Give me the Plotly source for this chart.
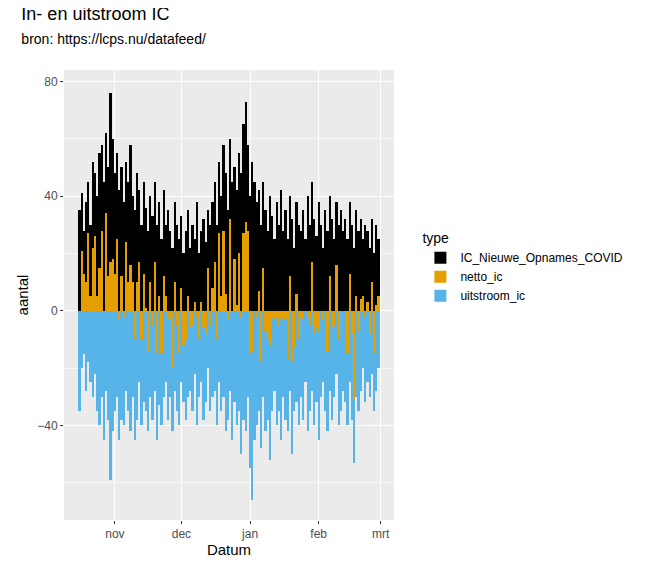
import plotly.graph_objects as go
import pandas as pd

dates = pd.date_range("2020-10-16", "2021-02-28", freq="D")
inflow = [35,41,28,38,45,30,52,48,40,55,
58,45,62,50,76,60,48,55,42,50,
38,52,45,58,40,35,48,42,30,45,
36,28,40,33,45,30,38,25,42,30,
35,28,22,38,30,25,33,20,28,35,
22,30,25,38,20,28,32,24,35,30,
38,45,30,52,40,58,48,35,60,45,
50,42,55,48,65,73,58,40,52,45,
38,42,30,45,35,28,40,33,25,38,
30,42,28,35,25,40,32,22,38,30,
28,35,25,40,30,45,32,26,38,30,
22,35,28,40,32,25,38,30,35,28,
32,25,38,30,22,35,28,32,25,30,
28,22,32,20,30,25]
outflow = [-35,-20,-15,-28,-18,-25,-30,-22,-35,-40,
-30,-45,-28,-38,-59,-42,-35,-30,-45,-38,
-40,-28,-35,-42,-30,-45,-38,-25,-40,-32,
-35,-42,-30,-38,-28,-45,-33,-40,-30,-25,
-38,-30,-42,-28,-35,-40,-25,-32,-38,-30,
-28,-35,-22,-40,-30,-25,-38,-32,-20,-35,
-30,-28,-40,-25,-35,-30,-42,-38,-28,-45,
-32,-40,-35,-50,-38,-42,-30,-55,-66,-45,
-40,-35,-48,-30,-42,-38,-52,-35,-28,-40,
-35,-45,-30,-38,-42,-28,-50,-35,-32,-40,
-30,-38,-25,-42,-35,-28,-40,-32,-45,-30,
-25,-35,-42,-28,-38,-30,-22,-40,-35,-28,
-32,-40,-25,-38,-53,-30,-35,-28,-20,-32,
-25,-30,-22,-35,-28,-20]
netto = [i + o for i, o in zip(inflow, outflow)]

tick_vals = ["2020-11-01", "2020-12-01", "2021-01-01", "2021-02-01", "2021-03-01"]
tick_text = ["nov", "dec", "jan", "feb", "mrt"]

fig = go.Figure()
fig.add_bar(x=dates, y=inflow, name="IC_Nieuwe_Opnames_COVID", marker=dict(color="#000000", line_width=0), legendrank=1)
fig.add_bar(x=dates, y=outflow, name="uitstroom_ic", marker=dict(color="#56B4E9", line_width=0), legendrank=3)
fig.add_bar(x=dates, y=netto, name="netto_ic", marker=dict(color="#E69F00", line_width=0), legendrank=2)

fig.update_layout(
    width=668, height=565, barmode="overlay", bargap=0,
    paper_bgcolor="white", plot_bgcolor="#EBEBEB",
    margin=dict(l=62, r=276, t=62, b=53),
    font=dict(family="Liberation Sans, Arial", size=13, color="#222"),
    title=dict(text="In- en uitstroom IC<br><span style='font-size:14px'>bron: https://lcps.nu/datafeed/</span>",
               x=0.02, xanchor="left", y=0.985, yanchor="top", pad=dict(t=4), font=dict(size=18, color="black")),
    legend=dict(title=dict(text="type", font=dict(size=14)), x=1.08, y=0.56, yanchor="middle",
                font=dict(size=12, color="black"), traceorder="normal"),
    xaxis=dict(range=["2020-10-09", "2021-03-07"], tickvals=tick_vals, ticktext=tick_text,
               showgrid=True, gridcolor="white", gridwidth=1.2, ticks="outside", ticklen=3,
               tickcolor="#333", tickfont=dict(color="#4D4D4D", size=12), zeroline=False,
               title=dict(text="Datum", font=dict(size=15, color="black"), standoff=2)),
    yaxis=dict(range=[-73, 84], tickvals=[-40, 0, 40, 80], showgrid=True, gridcolor="white",
               gridwidth=1.2, ticks="outside", ticklen=3, tickcolor="#333",
               tickfont=dict(color="#4D4D4D", size=12), zeroline=False,
               minor=dict(tickvals=[-60, -20, 20, 60], showgrid=True, gridcolor="#F7F7F7", gridwidth=0.6),
               title=dict(text="aantal", font=dict(size=15, color="black"), standoff=4)),
)
fig.update_layout(margin=dict(l=56, r=282))
fig.write_html("out.html")
